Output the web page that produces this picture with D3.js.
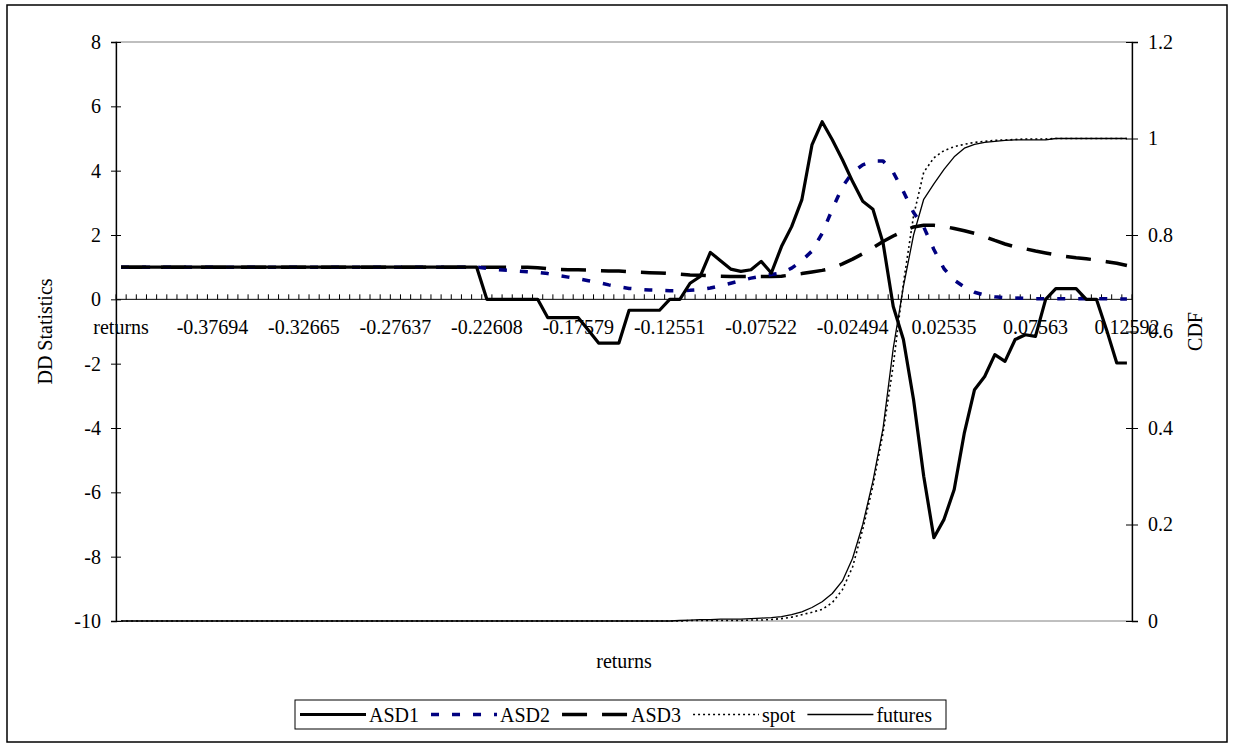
<!DOCTYPE html>
<html>
<head>
<meta charset="utf-8">
<script src="https://cdn.jsdelivr.net/npm/d3@7"></script>
<style>
  body { margin: 0; background: #fff; }
  svg text { font-family: "Liberation Serif", "Times New Roman", serif; fill: #000; }
</style>
</head>
<body>
<svg id="canvas" width="1235" height="750"></svg>
<script>
// category labels that are printed (every 9th bin, first one is the header cell)
const returnLabels = ['returns', '-0.37694', '-0.32665', '-0.27637', '-0.22608', '-0.17579',
    '-0.12551', '-0.07522', '-0.02494', '0.02535', '0.07563', '0.12592']
const labelEvery = 9
const binCount = 100

const asd1 = [
    1, 1, 1, 1, 1, 1, 1, 1, 1, 1,
    1, 1, 1, 1, 1, 1, 1, 1, 1, 1,
    1, 1, 1, 1, 1, 1, 1, 1, 1, 1,
    1, 1, 1, 1, 1, 1, 0, 0, 0, 0,
    0, 0, -0.57, -0.57, -0.57, -0.57, -0.96, -1.36, -1.36, -1.36,
    -0.34, -0.34, -0.34, -0.34, 0, 0, 0.5, 0.71, 1.46, 1.2,
    0.94, 0.87, 0.92, 1.18, 0.82, 1.64, 2.26, 3.09, 4.8, 5.52,
    4.96, 4.34, 3.66, 3.05, 2.8, 1.75, -0.22, -1.25, -3.12, -5.5,
    -7.41, -6.84, -5.91, -4.15, -2.81, -2.4, -1.72, -1.93, -1.25, -1.1,
    -1.15, 0, 0.33, 0.33, 0.33, 0, 0, -0.95, -1.98, -1.98
]

const asd2 = [
    1, 1, 1, 1, 1, 1, 1, 1, 1, 1,
    1, 1, 1, 1, 1, 1, 1, 1, 1, 1,
    1, 1, 1, 1, 1, 1, 1, 1, 1, 1,
    1, 1, 1, 1, 1, 1, 0.96, 0.92, 0.9, 0.88,
    0.86, 0.84, 0.8, 0.74, 0.69, 0.64, 0.58, 0.52, 0.45, 0.39,
    0.34, 0.31, 0.29, 0.28, 0.27, 0.27, 0.28, 0.3, 0.35, 0.42,
    0.5, 0.58, 0.66, 0.72, 0.77, 0.82, 0.97, 1.2, 1.5, 2.05,
    2.8, 3.5, 3.95, 4.18, 4.3, 4.3, 3.95, 3.35, 2.7, 2.25,
    1.55, 0.95, 0.6, 0.38, 0.22, 0.13, 0.08, 0.05, 0.04, 0.03,
    0.02, 0.02, 0.02, 0.02, 0.02, 0.02, 0.02, 0.02, 0.01, 0.01
]

const asd3 = [
    1, 1, 1, 1, 1, 1, 1, 1, 1, 1,
    1, 1, 1, 1, 1, 1, 1, 1, 1, 1,
    1, 1, 1, 1, 1, 1, 1, 1, 1, 1,
    1, 1, 1, 1, 1, 1, 1, 1, 1, 1,
    1, 0.98, 0.95, 0.93, 0.92, 0.92, 0.91, 0.89, 0.88, 0.88,
    0.86, 0.84, 0.83, 0.82, 0.8, 0.78, 0.76, 0.75, 0.73, 0.72,
    0.71, 0.71, 0.71, 0.71, 0.71, 0.72, 0.76, 0.8, 0.85, 0.9,
    0.97, 1.1, 1.25, 1.42, 1.6, 1.8, 1.97, 2.12, 2.25, 2.3,
    2.3, 2.27, 2.2, 2.13, 2.05, 1.95, 1.83, 1.72, 1.63, 1.57,
    1.5, 1.44, 1.38, 1.33, 1.29, 1.26, 1.22, 1.17, 1.12, 1.05
]

// cumulative distributions, right axis
const spot = [
    0, 0, 0, 0, 0, 0, 0, 0, 0, 0,
    0, 0, 0, 0, 0, 0, 0, 0, 0, 0,
    0, 0, 0, 0, 0, 0, 0, 0, 0, 0,
    0, 0, 0, 0, 0, 0, 0, 0, 0, 0,
    0, 0, 0, 0, 0, 0, 0, 0, 0, 0,
    0, 0, 0, 0, 0, 0, 0.001, 0.001, 0.001, 0.001,
    0.001, 0.001, 0.002, 0.002, 0.003, 0.005, 0.008, 0.013, 0.018, 0.024,
    0.038, 0.065, 0.112, 0.19, 0.28, 0.39, 0.53, 0.7, 0.84, 0.93,
    0.96, 0.975, 0.983, 0.988, 0.992, 0.994, 0.996, 0.997, 0.998, 0.999,
    0.999, 0.999, 1, 1, 1, 1, 1, 1, 1, 1
]

const futures = [
    0, 0, 0, 0, 0, 0, 0, 0, 0, 0,
    0, 0, 0, 0, 0, 0, 0, 0, 0, 0,
    0, 0, 0, 0, 0, 0, 0, 0, 0, 0,
    0, 0, 0, 0, 0, 0, 0, 0, 0, 0,
    0, 0, 0, 0, 0, 0, 0, 0, 0, 0,
    0, 0, 0, 0, 0, 0.001, 0.002, 0.003, 0.003, 0.004,
    0.004, 0.004, 0.005, 0.006, 0.007, 0.009, 0.013, 0.019, 0.028, 0.04,
    0.057, 0.083, 0.13, 0.2, 0.29, 0.4, 0.565, 0.693, 0.8, 0.874,
    0.906, 0.936, 0.962, 0.98, 0.988, 0.992, 0.994, 0.996, 0.997, 0.997,
    0.997, 0.997, 1, 1, 1, 1, 1, 1, 1, 1
]

const leftTicks = [-10, -8, -6, -4, -2, 0, 2, 4, 6, 8]
const rightTicks = [0, 0.2, 0.4, 0.6, 0.8, 1, 1.2]

let canvas = d3.select('#canvas')

const plot = { left: 116, right: 1132, top: 42, bottom: 621 }

let bins = d3.range(binCount)

let x = d3.scaleBand()
    .domain(bins)
    .range([plot.left, plot.right])
    .padding(0)

let yLeft = d3.scaleLinear().domain([-10, 8]).range([plot.bottom, plot.top])
let yRight = d3.scaleLinear().domain([0, 1.2]).range([plot.bottom, plot.top])

const cx = (i) => x(i) + x.bandwidth() / 2

// outer chart border
canvas.append('rect')
    .attr('x', 7).attr('y', 5)
    .attr('width', 1220).attr('height', 737)
    .attr('fill', 'none')
    .attr('stroke', '#000')
    .attr('stroke-width', 1.5)

// plot area frame
canvas.append('rect')
    .attr('x', plot.left).attr('y', plot.top)
    .attr('width', plot.right - plot.left).attr('height', plot.bottom - plot.top)
    .attr('fill', 'none')
    .attr('stroke', '#808080')
    .attr('stroke-width', 1)

function drawAxes () {
    // left value axis, ticks crossing the line (plain hyphen for negatives)
    canvas.append('g')
        .attr('transform', 'translate(' + plot.left + ',0)')
        .call(d3.axisLeft(yLeft).tickValues(leftTicks).tickSize(5).tickPadding(10).tickFormat(d => String(d)))
        .call(g => g.select('.domain').attr('stroke', '#000').attr('stroke-width', 1.3))
        .call(g => g.selectAll('.tick line').attr('x1', 5).attr('stroke', '#000'))
        .call(g => g.selectAll('.tick text').attr('font-size', 20).attr('font-family', 'Liberation Serif'))

    // right CDF axis
    canvas.append('g')
        .attr('transform', 'translate(' + plot.right + ',0)')
        .call(d3.axisRight(yRight).tickValues(rightTicks).tickSize(6).tickPadding(10).tickFormat(d => String(d)))
        .call(g => g.select('.domain').attr('stroke', '#000').attr('stroke-width', 1.3))
        .call(g => g.selectAll('.tick line').attr('x1', -6).attr('stroke', '#000'))
        .call(g => g.selectAll('.tick text').attr('font-size', 20).attr('font-family', 'Liberation Serif'))

    // category axis crosses at zero
    let zeroY = yLeft(0)
    canvas.append('line')
        .attr('x1', plot.left).attr('x2', plot.right)
        .attr('y1', zeroY).attr('y2', zeroY)
        .attr('stroke', '#000')
        .attr('stroke-width', 1)

    // small tick marks between categories
    let edges = bins.map(i => x(i)).concat([plot.right])
    canvas.append('g')
        .selectAll('line')
        .data(edges)
        .enter()
        .append('line')
        .attr('x1', d => d).attr('x2', d => d)
        .attr('y1', zeroY).attr('y2', zeroY - 5)
        .attr('stroke', '#000')
        .attr('stroke-width', 1)

    canvas.append('g')
        .selectAll('text')
        .data(returnLabels)
        .enter()
        .append('text')
        .attr('x', (d, k) => cx(k * labelEvery))
        .attr('y', zeroY + 35)
        .attr('text-anchor', 'middle')
        .attr('font-size', 20)
        .text(d => d)

    // axis titles
    canvas.append('text')
        .attr('transform', 'translate(52,' + (plot.top + plot.bottom) / 2 + ') rotate(-90)')
        .attr('text-anchor', 'middle')
        .attr('font-size', 20)
        .text('DD Statistics')

    canvas.append('text')
        .attr('transform', 'translate(1202,' + (plot.top + plot.bottom) / 2 + ') rotate(-90)')
        .attr('text-anchor', 'middle')
        .attr('font-size', 20)
        .text('CDF')

    canvas.append('text')
        .attr('x', (plot.left + plot.right) / 2)
        .attr('y', 668)
        .attr('text-anchor', 'middle')
        .attr('font-size', 20)
        .text('returns')
}

const seriesList = [
    { name: 'ASD1', values: asd1, scale: yLeft, color: '#000', width: 3.2, dash: null },
    { name: 'ASD2', values: asd2, scale: yLeft, color: '#000080', width: 3.5, dash: '8,13' },
    { name: 'ASD3', values: asd3, scale: yLeft, color: '#000', width: 3.5, dash: '25,15' },
    { name: 'spot', values: spot, scale: yRight, color: '#000', width: 1.6, dash: '2,3' },
    { name: 'futures', values: futures, scale: yRight, color: '#000', width: 1.3, dash: null }
]

function drawLines () {
    // draw order: CDFs at the back, ASD1 on top
    let order = ['futures', 'spot', 'ASD3', 'ASD2', 'ASD1']
    order.forEach((name) => {
        let s = seriesList.find(item => item.name === name)
        let line = d3.line()
            .x((d, i) => cx(i))
            .y(d => s.scale(d))
        canvas.append('path')
            .datum(s.values)
            .attr('d', line)
            .attr('fill', 'none')
            .attr('stroke', s.color)
            .attr('stroke-width', s.width)
            .attr('stroke-dasharray', s.dash)
            .attr('stroke-linejoin', 'round')
    })
}

function drawLegend () {
    canvas.append('rect')
        .attr('x', 295).attr('y', 700)
        .attr('width', 651).attr('height', 29)
        .attr('fill', '#fff')
        .attr('stroke', '#000')
        .attr('stroke-width', 1)

    let pos = 300
    let midY = 714.5
    seriesList.forEach((s) => {
        canvas.append('line')
            .attr('x1', pos).attr('x2', pos + 66)
            .attr('y1', midY).attr('y2', midY)
            .attr('stroke', s.color)
            .attr('stroke-width', s.width)
            .attr('stroke-dasharray', s.dash)
        let t = canvas.append('text')
            .attr('x', pos + 69)
            .attr('y', midY + 7)
            .attr('font-size', 20)
            .text(s.name)
        pos = pos + 69 + t.node().getComputedTextLength() + 12
    })
}

drawAxes()
drawLines()
drawLegend()
</script>
</body>
</html>
